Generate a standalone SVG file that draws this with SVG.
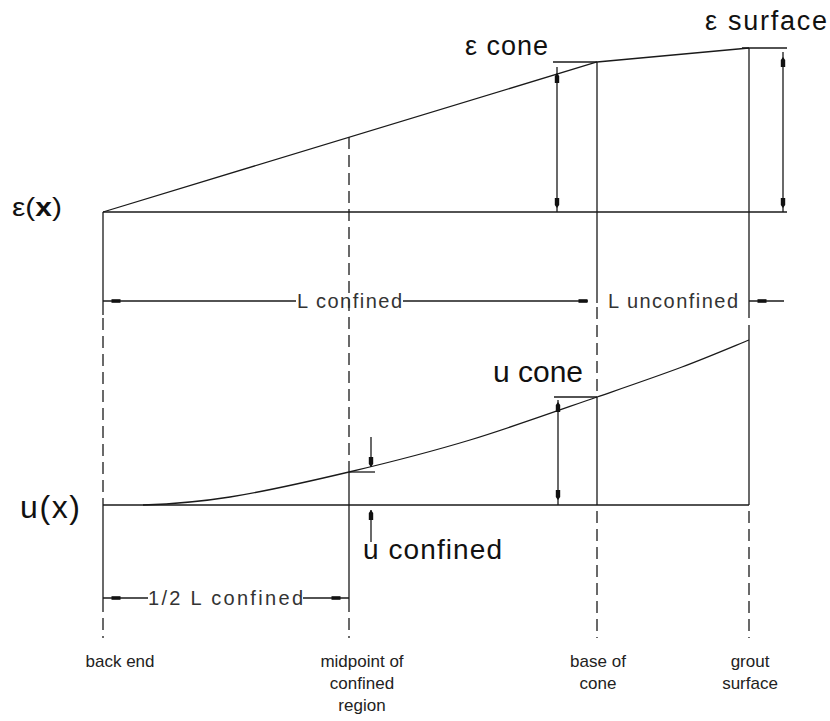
<svg xmlns="http://www.w3.org/2000/svg" width="830" height="721" viewBox="0 0 830 721">
<style>
.ln{stroke:#1a1a1a;stroke-width:1.3;fill:none}
.ds{stroke:#1a1a1a;stroke-width:1.3;fill:none;stroke-dasharray:12 6}
.ah{fill:#111}
.big{font-family:"Liberation Sans",Arial,sans-serif;fill:#111}
.cad{font-family:"Liberation Sans",Arial,sans-serif;font-size:20px;fill:#333}
.sm{font-family:"Liberation Sans",Arial,sans-serif;font-size:17px;fill:#222;text-anchor:middle}
</style>
<defs>
<polygon id="up" class="ah" points="0,0 2.2,3 2.2,10 -2.2,10 -2.2,3"/>
<polygon id="dn" class="ah" points="0,0 2.2,-3 2.2,-10 -2.2,-10 -2.2,-3"/>
<rect id="tk" class="ah" x="-4.5" y="-1.8" width="9" height="3.6"/>
</defs>
<rect width="830" height="721" fill="#fff"/>

<g id="strain-plot">
<line class="ln" x1="103" y1="212" x2="787" y2="212"/>
<polyline class="ln" points="103,212 597,62 749,48"/>
<line class="ln" x1="553" y1="62" x2="597" y2="62"/>
<line class="ln" x1="742" y1="48" x2="787" y2="48"/>
</g>

<g id="displacement-plot">
<line class="ln" x1="103" y1="505" x2="749" y2="505"/>
<path class="ln" d="M143,505 C157.5,504.5 195.7,502.5 230,497 C264.3,491.5 309,481.5 349,472 C389,462.5 428.7,452.5 470,440 C511.3,427.5 561.7,409.2 597,397 C632.3,384.8 656.7,376.5 682,367 C707.3,357.5 737.8,344.5 749,340"/>
<line class="ln" x1="554" y1="397" x2="597" y2="397"/>
<line class="ln" x1="349" y1="472" x2="375" y2="472"/>
</g>

<g id="verticals">
<line class="ln" x1="103" y1="212" x2="103" y2="315"/>
<line class="ds" x1="103" y1="318" x2="103" y2="505"/>
<line class="ln" x1="103" y1="505" x2="103" y2="612"/>
<line class="ds" x1="103" y1="618" x2="103" y2="638"/>

<line class="ds" x1="349" y1="137" x2="349" y2="472"/>
<line class="ln" x1="349" y1="472" x2="349" y2="612"/>
<line class="ds" x1="349" y1="618" x2="349" y2="638"/>

<line class="ln" x1="597" y1="62" x2="597" y2="303"/>
<line class="ds" x1="597" y1="307" x2="597" y2="393"/>
<line class="ln" x1="597" y1="397" x2="597" y2="505"/>
<line class="ds" x1="597" y1="511" x2="597" y2="638"/>

<line class="ln" x1="749" y1="48" x2="749" y2="318"/>
<line class="ln" x1="749" y1="325" x2="749" y2="505"/>
<line class="ds" x1="749" y1="511" x2="749" y2="638"/>
</g>

<g id="connectors">
<line class="ln" x1="557" y1="67" x2="557" y2="212"/>
<use href="#up" x="557" y="73"/>
<use href="#dn" x="557" y="208"/>
<line class="ln" x1="783" y1="52" x2="783" y2="212"/>
<use href="#up" x="783" y="57"/>
<use href="#dn" x="783" y="208"/>
<line class="ln" x1="558" y1="400" x2="558" y2="505"/>
<use href="#up" x="558" y="402"/>
<use href="#dn" x="558" y="500"/>
<line class="ln" x1="371" y1="437" x2="371" y2="467"/>
<use href="#dn" x="371" y="467"/>
<line class="ln" x1="371" y1="510" x2="371" y2="542"/>
<use href="#up" x="371" y="510"/>

<line class="ln" x1="103" y1="301" x2="296" y2="301"/>
<line class="ln" x1="403" y1="301" x2="588" y2="301"/>
<use href="#tk" x="116" y="301"/>
<use href="#tk" x="583" y="301"/>
<line class="ln" x1="749" y1="301" x2="784" y2="301"/>
<use href="#tk" x="762" y="301"/>

<line class="ln" x1="103" y1="598" x2="148" y2="598"/>
<line class="ln" x1="303" y1="598" x2="349" y2="598"/>
<use href="#tk" x="116" y="598"/>
<use href="#tk" x="336" y="598"/>
</g>

<g id="labels">
<text class="big" x="12" y="216" font-size="26" textLength="50" lengthAdjust="spacingAndGlyphs">ε(<tspan font-weight="bold">x</tspan>)</text>
<text class="big" x="465" y="55" font-size="27" textLength="83" lengthAdjust="spacing">ε cone</text>
<text class="big" x="705" y="30" font-size="27" textLength="122" lengthAdjust="spacing">ε surface</text>
<text class="big" x="20" y="518" font-size="32" textLength="60" lengthAdjust="spacing">u(x)</text>
<text class="big" x="493" y="382" font-size="30" textLength="90" lengthAdjust="spacing">u cone</text>
<text class="big" x="363" y="559" font-size="28" textLength="139" lengthAdjust="spacing">u confined</text>
<text class="cad" x="297" y="308" textLength="105" lengthAdjust="spacing">L confined</text>
<text class="cad" x="608" y="308" textLength="130" lengthAdjust="spacing">L unconfined</text>
<text class="cad" x="148" y="605" textLength="155" lengthAdjust="spacing">1/2 L confined</text>
<text class="sm" x="120" y="667">back end</text>
<text class="sm" x="362" y="667">midpoint of</text>
<text class="sm" x="362" y="689">confined</text>
<text class="sm" x="362" y="711">region</text>
<text class="sm" x="598" y="667">base of</text>
<text class="sm" x="598" y="689">cone</text>
<text class="sm" x="750" y="667">grout</text>
<text class="sm" x="750" y="689">surface</text>
</g>
</svg>
